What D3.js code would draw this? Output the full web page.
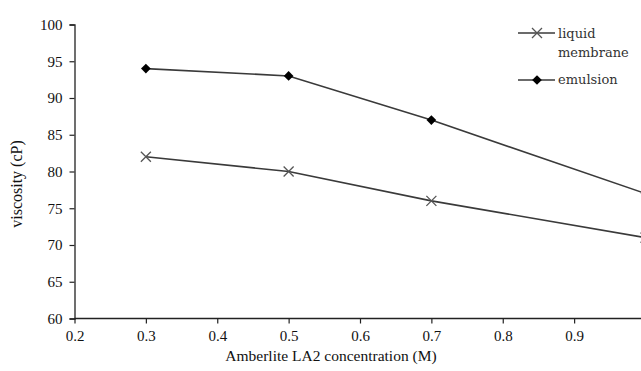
<!DOCTYPE html>
<html><head><meta charset="utf-8">
<script src="https://cdn.jsdelivr.net/npm/d3@7"></script>
<style>body{margin:0;background:#fff}svg{display:block}</style>
</head><body>
<script>
const concentrations = [0.3, 0.5, 0.7, 1.0];
const liquidMembrane = [82, 80, 76, 71];
const emulsion = [94, 93, 87, 77];
const xTicks = [0.2, 0.3, 0.4, 0.5, 0.6, 0.7, 0.8, 0.9, 1.0];
const yTicks = [60, 65, 70, 75, 80, 85, 90, 95, 100];
const seriesNames = ["liquid", "membrane", "emulsion"];

const W = 641, H = 371;
const svg = d3.select("body").append("svg").attr("width", W).attr("height", H);
const x = d3.scaleLinear().domain([0.2, 1.0]).range([74.5, 645.5]);
const y = d3.scaleLinear().domain([60, 100]).range([318.5, 24.5]);
const font = "'Liberation Serif', 'Times New Roman', serif";

const xa = svg.append("g").attr("transform", "translate(0,318.5)")
  .call(d3.axisBottom(x).tickValues(xTicks).tickSize(5).tickPadding(7).tickFormat(d3.format(".1f")));
const ya = svg.append("g").attr("transform", "translate(74.5,0)")
  .call(d3.axisLeft(y).tickValues(yTicks).tickSize(5).tickPadding(7));
[xa, ya].forEach(a => {
  a.select(".domain").attr("stroke", "#222").attr("stroke-width", 1.3);
  a.selectAll(".tick line").attr("stroke", "#222").attr("stroke-width", 1.2);
  a.selectAll("text").attr("font-family", font).attr("font-size", 15).attr("fill", "#111");
});
xa.select(".domain").attr("d", `M${x(0.2)},0H${W+10}`);
xa.selectAll(".tick text").filter(d => d === 1.0).remove();

svg.append("text").attr("x", 331).attr("y", 361).attr("text-anchor", "middle")
  .attr("font-family", font).attr("font-size", 15.5).attr("fill", "#111")
  .text("Amberlite LA2 concentration (M)");
svg.append("text").attr("transform", "translate(22,184) rotate(-90)").attr("text-anchor", "middle")
  .attr("font-family", font).attr("font-size", 16).attr("fill", "#111")
  .text("viscosity (cP)");

const line = d3.line().x((d, i) => x(concentrations[i])).y(d => y(d));
function drawSeries(vals, kind) {
  svg.append("path").datum(vals).attr("d", line).attr("fill", "none")
    .attr("stroke", "#3a3a3a").attr("stroke-width", 1.6);
  vals.forEach((v, i) => marker(x(concentrations[i]), y(v), kind));
}
function marker(cx, cy, kind) {
  if (kind === "x") {
    const s = 5;
    svg.append("path").attr("d", `M${cx-s},${cy-s}L${cx+s},${cy+s}M${cx-s},${cy+s}L${cx+s},${cy-s}`)
      .attr("stroke", "#555").attr("stroke-width", 1.3).attr("fill", "none");
  } else {
    svg.append("path").attr("d", d3.symbol(d3.symbolDiamond2, 60)())
      .attr("transform", `translate(${cx},${cy})`).attr("fill", "#000");
  }
}
drawSeries(liquidMembrane, "x");
drawSeries(emulsion, "d");

// legend
const lg = svg.append("g");
lg.append("line").attr("x1", 518).attr("x2", 555).attr("y1", 33).attr("y2", 33).attr("stroke", "#3a3a3a").attr("stroke-width", 1.6);
marker(537, 33, "x");
lg.append("line").attr("x1", 518).attr("x2", 555).attr("y1", 80).attr("y2", 80).attr("stroke", "#3a3a3a").attr("stroke-width", 1.6);
marker(537, 80, "d");
const lf = "'DejaVu Serif', serif";
[[seriesNames[0], 38], [seriesNames[1], 57], [seriesNames[2], 84]].forEach(([t, yy]) => {
  lg.append("text").attr("x", 558).attr("y", yy).attr("font-family", lf).attr("font-size", 13)
    .attr("fill", "#333").text(t);
});
</script>
</body></html>
